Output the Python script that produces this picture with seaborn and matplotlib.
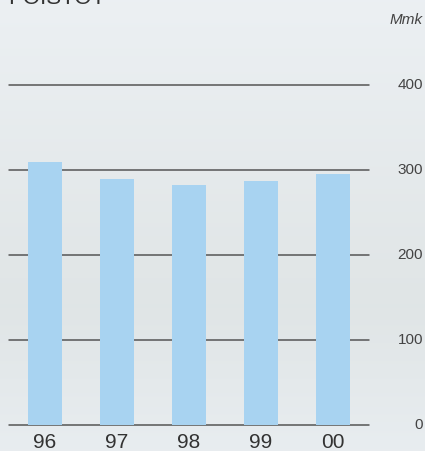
import numpy as np
import pandas as pd
import matplotlib
matplotlib.use("Agg")
import matplotlib.pyplot as plt
import seaborn as sns

years = ["96", "97", "98", "99", "00"]
values = [309, 289, 282, 287, 295]
yticks = [0, 100, 200, 300, 400]
title = "POISTOT"
unit = "Mmk"

sns.set_theme(style="white")
plt.rcParams["font.family"] = ["Liberation Sans", "DejaVu Sans"]

W, H = 425, 451
fig = plt.figure(figsize=(W / 100, H / 100), dpi=100)

# subtle background gradient
bg = fig.add_axes([0, 0, 1, 1])
top = np.array([0.925, 0.941, 0.953])
mid = np.array([0.878, 0.898, 0.902])
bot = np.array([0.910, 0.929, 0.941])
yy = np.linspace(0, 1, 200)[:, None]
def mix(t):
    out = np.zeros((len(t), 3))
    for i, v in enumerate(t[:, 0]):
        if v < 0.68:
            a = v / 0.68
            out[i] = top * (1 - a) + mid * a
        else:
            a = (v - 0.68) / 0.32
            out[i] = mid * (1 - a) + bot * a
    return out
grad = mix(yy)[:, None, :].repeat(2, axis=1)
bg.imshow(grad, aspect="auto", extent=[0, 1, 1, 0])
bg.set_axis_off()

left, right = 9 / W, 369 / W
bottom = 26 / H
top_px = 85
ax = fig.add_axes([left, bottom, right - left, (425 - top_px) / H])
ax.patch.set_alpha(0)

df = pd.DataFrame({"year": years, "value": values})
sns.barplot(data=df, x="year", y="value", color="#a8d3f1", width=0.46,
            saturation=1, linewidth=0, ax=ax, zorder=3)

ax.set_xlim(-0.5, 4.5)
ax.set_ylim(0, 400)
for t in yticks:
    ax.axhline(t, color="#555555", lw=1.1, zorder=2, clip_on=False)

for s in ax.spines.values():
    s.set_visible(False)

ax.set_xlabel("")
ax.set_ylabel("")
ax.tick_params(axis="x", length=0, pad=6, labelsize=15, labelcolor="#333333")
ax.yaxis.tick_right()
ax.set_yticks(yticks)
ax.set_yticklabels([str(t) for t in yticks])
ax.tick_params(axis="y", length=0, pad=39, labelsize=11, labelcolor="#444444")
for lab in ax.get_yticklabels():
    lab.set_horizontalalignment("right")
    lab.set_verticalalignment("center")

fig.text(423 / W, 1 - 20 / H, unit, ha="right", va="center", fontsize=11,
         style="italic", color="#444444")
fig.text(8 / W, 1 - 4 / H, title, ha="left", va="baseline", fontsize=16,
         color="#333333")

fig.savefig("out.png", dpi=100)
